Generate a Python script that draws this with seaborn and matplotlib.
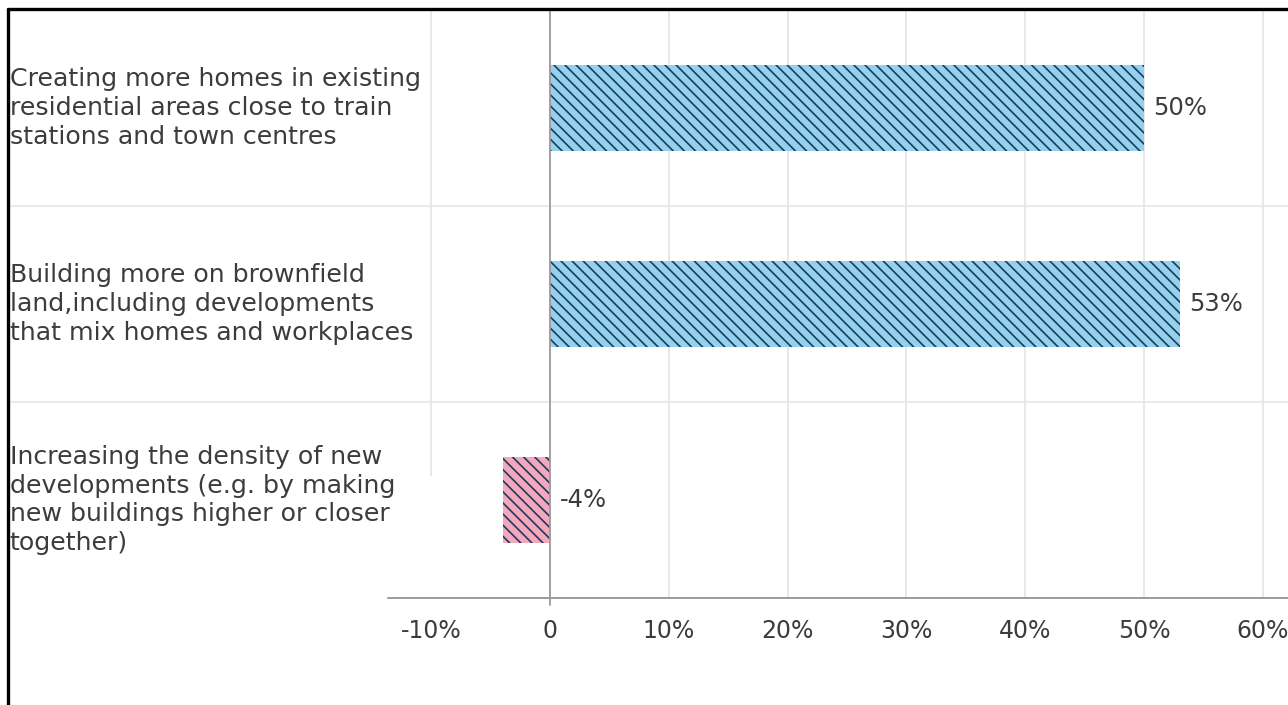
import matplotlib
matplotlib.use("Agg")
import matplotlib.pyplot as plt
import seaborn as sns
import pandas as pd
from matplotlib.lines import Line2D
from matplotlib.patches import Rectangle
import matplotlib.transforms as mtransforms

categories = [
    "Creating more homes in existing\nresidential areas close to train\nstations and town centres",
    "Building more on brownfield\nland,including developments\nthat mix homes and workplaces",
    "Increasing the density of new\ndevelopments (e.g. by making\nnew buildings higher or closer\ntogether)",
]
values = [50, 53, -4]
value_labels = ["50%", "53%", "-4%"]
tick_values = [-10, 0, 10, 20, 30, 40, 50, 60]
tick_labels = ["-10%", "0", "10%", "20%", "30%", "40%", "50%", "60%"]

POS_COLOR = "#93d1ee"
NEG_COLOR = "#f3a8be"
HATCH_COLOR = "#1e3a5c"
TEXT_COLOR = "#3c3c3c"
FONT = ["DejaVu Sans"]

sns.set_theme(style="white")
plt.rcParams["font.family"] = FONT
plt.rcParams["hatch.linewidth"] = 1.2

W, H = 1288, 705
fig = plt.figure(figsize=(W / 100, H / 100), dpi=100)
ax = fig.add_axes([388 / W, 1 - 598 / H, 1 - 388 / W, (598 - 10) / H])

df = pd.DataFrame({"cat": categories, "val": values})
colors = [POS_COLOR if v >= 0 else NEG_COLOR for v in values]
sns.barplot(data=df, x="val", y="cat", hue="cat", palette=colors, legend=False,
            orient="h", width=0.435, saturation=1, ax=ax, zorder=3)

for p in ax.patches:
    p.set_hatch("\\\\\\")
    p.set_edgecolor(HATCH_COLOR)
    p.set_linewidth(0)

ax.set_xlim(-13.64, 62.12)
ax.set_ylim(2.5, -0.5)
ax.set_xticks(tick_values)
ax.set_xticklabels(tick_labels)
ax.tick_params(axis="x", length=0, pad=15, labelsize=17, labelcolor=TEXT_COLOR)
ax.set_yticks([])
ax.set_xlabel("")
ax.set_ylabel("")

for s in ["top", "right", "left"]:
    ax.spines[s].set_visible(False)
ax.spines["bottom"].set_color("#8a8a8a")
ax.spines["bottom"].set_linewidth(1.2)

# vertical gridlines
for t in tick_values:
    if t != 0:
        ax.axvline(t, color="#e2e2e2", lw=1.1, zorder=0)
# white block covering part of the -10% gridline behind the last label
ax.add_patch(Rectangle((-13.64, 2.0 - 0.12), 10.0, 1.0, facecolor="white",
                       edgecolor="none", zorder=0.5))
# zero line
ax.axvline(0, ymin=-0.012, ymax=1, color="#9a9a9a", lw=1.3, zorder=4, clip_on=False)

# horizontal separators spanning whole figure width
x0 = (8 - 388) / (W - 388)
for y in [0.5, 1.5]:
    ax.axhline(y, xmin=x0, xmax=1, color="#e6e6e6", lw=1.2, zorder=0, clip_on=False)

# category labels on the left
trans = mtransforms.blended_transform_factory(fig.transFigure, ax.transData)
for i, c in enumerate(categories):
    ax.text(9.5 / W, i, c, transform=trans, ha="left", va="center", fontsize=18.2,
            color=TEXT_COLOR, linespacing=1.26)

# value labels
for i, (v, lab) in enumerate(zip(values, value_labels)):
    ax.text(max(v, 0) + 0.8, i, lab, ha="left", va="center", fontsize=17.5,
            color=TEXT_COLOR, zorder=5)

# black frame (top and left) of the screenshot
fig.add_artist(Line2D([7.5 / W, 1.01], [1 - 8.5 / H, 1 - 8.5 / H],
                      transform=fig.transFigure, color="black", lw=2.4))
fig.add_artist(Line2D([7.5 / W, 7.5 / W], [1 - 8.5 / H, -0.01],
                      transform=fig.transFigure, color="black", lw=2.4))

fig.savefig("out.png", dpi=100, facecolor="white")
